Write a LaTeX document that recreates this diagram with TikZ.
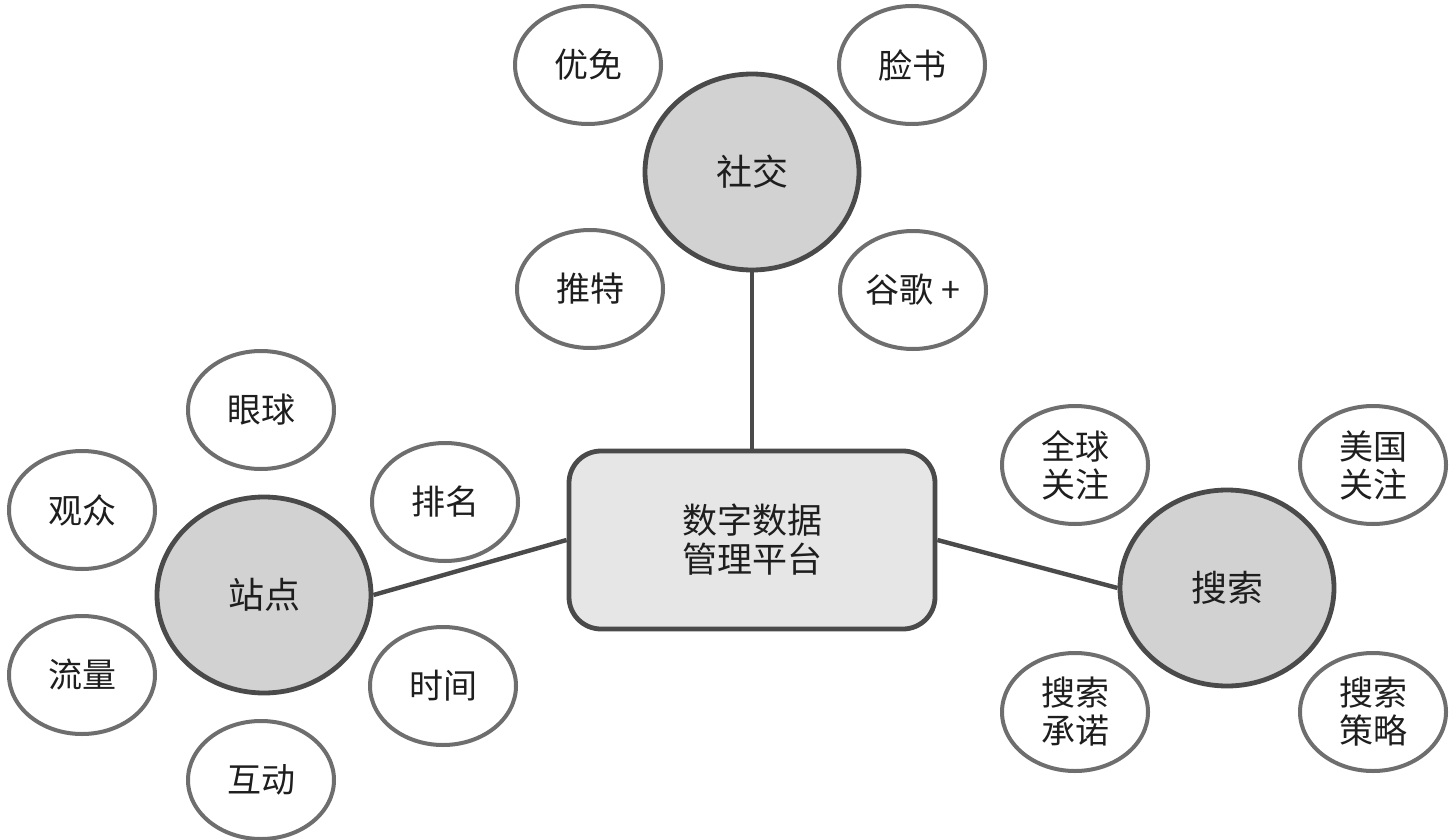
\documentclass[tikz,border=0pt]{standalone}
\usepackage{fontspec}
\setmainfont{Noto Sans CJK SC}
\usetikzlibrary{shapes.geometric}
\definecolor{edgec}{HTML}{4A4A4A}
\definecolor{leafc}{HTML}{6E6E6E}
\definecolor{hubfill}{HTML}{D2D2D2}
\definecolor{platfill}{HTML}{E6E6E6}
\definecolor{txt}{HTML}{1E1E1E}
\begin{document}
\begin{tikzpicture}[x=0.5pt,y=-0.5pt,
  hub/.style={ellipse, draw=edgec, line width=2.4pt, fill=hubfill, minimum width=107pt, minimum height=98pt, inner sep=0pt, text=txt, font=\fontsize{18}{20}\selectfont},
  leaf/.style={ellipse, draw=leafc, line width=2pt, fill=white, minimum width=73pt, minimum height=59pt, inner sep=0pt, text=txt, align=center, font=\fontsize{17}{19}\selectfont},
  plat/.style={rectangle, rounded corners=16pt, draw=edgec, line width=2.4pt, fill=platfill, minimum width=183pt, minimum height=89pt, text=txt, align=center, font=\fontsize{17.5}{19.5}\selectfont},
  conn/.style={draw=edgec, line width=2.2pt}]
\useasboundingbox (0,0) rectangle (1456,840);
\fill[white] (0,0) rectangle (1456,840);
% hubs and platform
\node[plat] (platform) at (752,540) {数字数据\\管理平台};
\node[hub] (social) at (752,172) {社交};
\node[hub] (site) at (264,595) {站点};
\node[hub] (search) at (1227,588) {搜索};
% connectors
\draw[conn] (social) -- (platform);
\draw[conn] (site.east) -- (platform.west);
\draw[conn] (platform.east) -- (search.west);
% social leaves
\node[leaf] (youmian) at (588,65) {优免};
\node[leaf] (lianshu) at (912,65) {脸书};
\node[leaf] (tuite) at (590,289) {推特};
\node[leaf] (guge) at (913,290) {谷歌 +};
% site leaves
\node[leaf] (yanqiu) at (261,410) {眼球};
\node[leaf] (guanzhong) at (82,510) {观众};
\node[leaf] (paiming) at (445,502) {排名};
\node[leaf] (liuliang) at (82,675) {流量};
\node[leaf] (shijian) at (443,686) {时间};
\node[leaf] (hudong) at (261,780) {互动};
% search leaves
\node[leaf] (quanqiu) at (1075,465) {全球\\关注};
\node[leaf] (meiguo) at (1373,465) {美国\\关注};
\node[leaf] (chengnuo) at (1075,712) {搜索\\承诺};
\node[leaf] (celue) at (1373,712) {搜索\\策略};
\end{tikzpicture}
\end{document}
